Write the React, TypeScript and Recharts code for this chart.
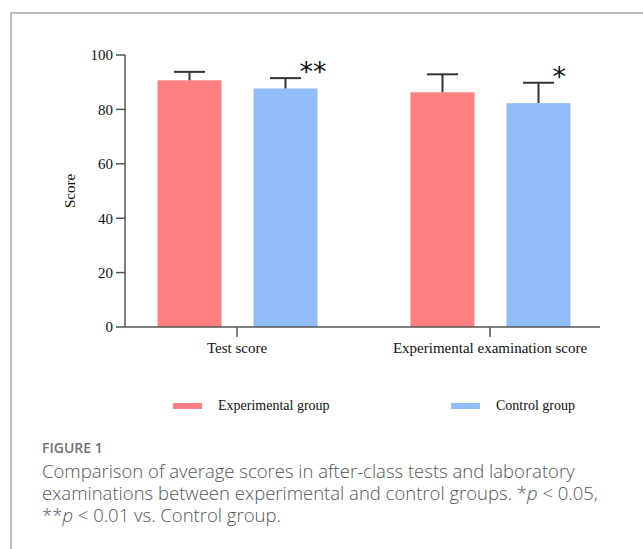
import { BarChart, Bar, XAxis, YAxis, Label } from 'recharts';

const categories = ['Test score', 'Experimental examination score'];
const experimentalMeans = [90.7, 86.3];
const experimentalSD = [3.1, 6.6];
const controlMeans = [87.7, 82.3];
const controlSD = [3.8, 7.5];
const significance = ['**', '*'];
const yTicks = [0, 20, 40, 60, 80, 100];

const seriesNames = ['Experimental group', 'Control group'];
const seriesColors = ['#FF8080', '#91BEF8'];

const data = categories.map((category, i) => ({
  category,
  experimental: experimentalMeans[i],
  experimentalSD: experimentalSD[i],
  control: controlMeans[i],
  controlSD: controlSD[i],
  sig: significance[i],
}));

const serif = '"Liberation Serif", "Times New Roman", serif';

// bar + one-sided error bar (upper only), with optional significance mark
const barWithError = (valueKey: string, errKey: string, showSig: boolean) => (props: any) => {
  const { x, y, width, height, fill, payload } = props;
  const v = payload[valueKey];
  const k = height / v;
  const top = y - payload[errKey] * k;
  const cx = x + width / 2;
  return (
    <g>
      <rect x={x} y={y} width={width} height={height} fill={fill} />
      <line x1={cx} y1={y} x2={cx} y2={top} stroke="#333" strokeWidth={2} />
      <line x1={cx - 15.5} y1={top} x2={cx + 15.5} y2={top} stroke="#333" strokeWidth={2} />
      {showSig && (
        <text x={x + width - 18} y={top + 3} fontSize={27} fontFamily='"DejaVu Sans", sans-serif' fill="#111">
          {payload.sig}
        </text>
      )}
    </g>
  );
};

export default function App() {
  return (
    <div style={{ position: 'relative', width: 643, height: 549, background: '#fff', overflow: 'hidden' }}>
      <style>{'body{margin:0}'}</style>
      <div
        style={{
          position: 'absolute',
          left: 10,
          top: 12,
          right: -5,
          bottom: -5,
          borderLeft: '2px solid #bdbdbd',
          borderTop: '2px solid #bdbdbd',
        }}
      />
      <div style={{ position: 'absolute', left: 0, top: 0 }}>
        <BarChart
          width={643}
          height={430}
          data={data}
          margin={{ top: 55, right: 43, bottom: 73, left: 65 }}
          barSize={64}
          barGap={32}
        >
          <XAxis
            dataKey="category"
            height={30}
            padding={{ left: -14.5, right: -16.5 }}
            axisLine={{ stroke: '#555', strokeWidth: 1.5 }}
            tickLine={{ stroke: '#555', strokeWidth: 1.5 }}
            tickSize={10}
            tickMargin={5}
            tick={{ fontSize: 15, fontFamily: serif, fill: '#111' }}
          />
          <YAxis
            width={60}
            domain={[0, 100]}
            ticks={yTicks}
            axisLine={{ stroke: '#555', strokeWidth: 1.5 }}
            tickLine={{ stroke: '#555', strokeWidth: 1.5 }}
            tickSize={9}
            tickMargin={3}
            tick={{ fontSize: 15, fontFamily: serif, fill: '#111' }}
          >
            <Label
              content={({ viewBox }: any) => {
                const cx = viewBox.x + 5;
                const cy = viewBox.y + viewBox.height / 2;
                return (
                  <text
                    x={cx}
                    y={cy}
                    transform={`rotate(-90 ${cx} ${cy})`}
                    textAnchor="middle"
                    dominantBaseline="central"
                    fontSize={15}
                    fontFamily={serif}
                    fill="#111"
                  >
                    Score
                  </text>
                );
              }}
            />
          </YAxis>
          <Bar
            dataKey="experimental"
            name={seriesNames[0]}
            fill={seriesColors[0]}
            isAnimationActive={false}
            shape={barWithError('experimental', 'experimentalSD', false)}
          />
          <Bar
            dataKey="control"
            name={seriesNames[1]}
            fill={seriesColors[1]}
            isAnimationActive={false}
            shape={barWithError('control', 'controlSD', true)}
          />
        </BarChart>
      </div>
      {/* legend */}
      <div style={{ position: 'absolute', top: 398, left: 173, display: 'flex', fontFamily: serif, fontSize: 14, color: '#111' }}>
        {seriesNames.map((name, i) => (
          <div key={name} style={{ display: 'flex', alignItems: 'center', width: 278 }}>
            <span style={{ display: 'inline-block', width: 29, height: 6, background: seriesColors[i], marginRight: 16 }} />
            <span>{name}</span>
          </div>
        ))}
      </div>
      {/* caption */}
      <div style={{ position: 'absolute', top: 438, left: 42, width: 600, fontFamily: '"Open Sans", sans-serif', color: '#555' }}>
        <div style={{ fontSize: 14, fontWeight: 600, color: '#707070', lineHeight: '20px' }}>FIGURE 1</div>
        <div style={{ fontSize: 18.5, fontWeight: 300, lineHeight: '22px', marginTop: 2, whiteSpace: 'nowrap' }}>
          Comparison of average scores in after-class tests and laboratory
          <br />
          examinations between experimental and control groups. *<i>p</i> &lt; 0.05,
          <br />
          **<i>p</i> &lt; 0.01 vs. Control group.
        </div>
      </div>
    </div>
  );
}
